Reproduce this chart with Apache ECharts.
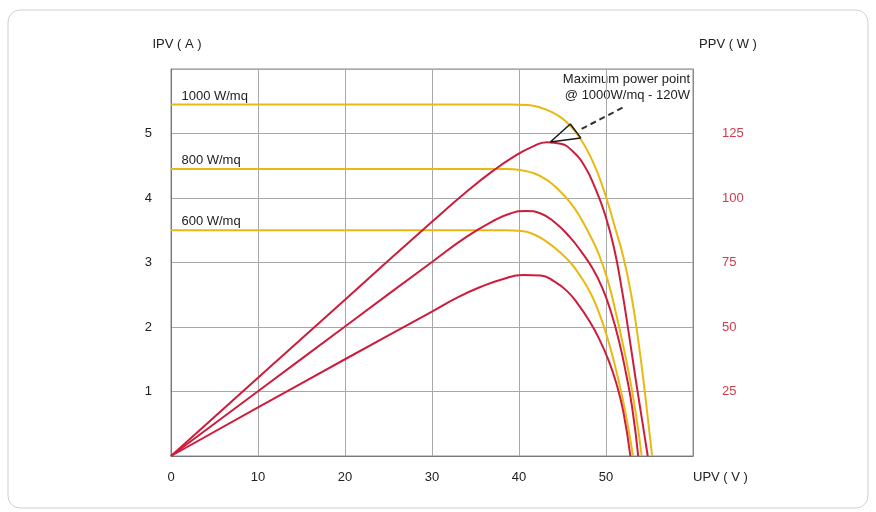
<!DOCTYPE html>
<html>
<head>
<meta charset="utf-8">
<title>PV module curves</title>
<script src="https://cdn.jsdelivr.net/npm/echarts@6/dist/echarts.min.js"></script>
<style>
  html, body { margin: 0; padding: 0; background: #fff; }
  #chart { width: 876px; height: 512px; }
</style>
</head>
<body>
<div id="chart"></div>
<script>
// tick labels
const voltTicks = [0, 10, 20, 30, 40, 50];
const currentTicks = [1, 2, 3, 4, 5];
const powerTicks = [25, 50, 75, 100, 125];

// irradiance names
const irradiance = ["1000 W/mq", "800 W/mq", "600 W/mq"];

// I-V curves  [V, A]
const iv1000 = [[0, 5.45], [10, 5.45], [20, 5.45], [30, 5.45], [39, 5.45], [41, 5.44], [42.5, 5.4], [43.8, 5.33], [45, 5.23],
  [46, 5.1], [47, 4.93], [48, 4.7], [49, 4.4], [50, 4.02], [51, 3.56], [52, 3.08], [52.9, 2.5], [53.7, 1.8], [54.5, 0.95], [55.3, 0]];
const iv800 = [[0, 4.45], [10, 4.45], [20, 4.45], [30, 4.45], [38.5, 4.45], [40.3, 4.43], [41.8, 4.38], [43.2, 4.28], [44.6, 4.12],
  [45.9, 3.93], [47, 3.71], [48.2, 3.41], [49.2, 3.12], [50.2, 2.72], [51, 2.3], [51.8, 1.82], [52.6, 1.3], [53.4, 0.68], [54.1, 0]];
const iv600 = [[0, 3.5], [10, 3.5], [20, 3.5], [30, 3.5], [38.5, 3.5], [40.3, 3.49], [41.8, 3.43], [43.2, 3.32], [44.6, 3.17],
  [45.9, 3.0], [47, 2.8], [48.2, 2.53], [49.2, 2.22], [50.1, 1.86], [51, 1.42], [51.8, 0.96], [52.5, 0.48], [53.1, 0]];

// P-V curves  [V, W]
const pv1000 = [[0, 0], [10, 30.3], [20, 60.6], [30, 90.8], [34, 102.5], [37, 110.5], [39.5, 116.2], [41.5, 119.8], [43.2, 121.6],
  [44.8, 121], [46.2, 118], [47.6, 112], [48.8, 103.5], [49.9, 93.5], [50.9, 81], [51.8, 65], [52.6, 48], [53.4, 30], [54.1, 15], [54.8, 0]];
const pv800 = [[0, 0], [10, 25.1], [20, 50.2], [30, 75.2], [34, 85], [37, 91], [39, 94], [40.8, 95], [42.5, 94], [44.2, 90.3],
  [45.8, 85], [47.2, 79], [48.5, 72.5], [49.6, 65], [50.6, 55.5], [51.5, 44.5], [52.3, 32], [53, 19], [53.7, 0]];
const pv600 = [[0, 0], [10, 18.8], [20, 37.5], [30, 56], [33, 61.6], [35.5, 65.4], [38, 68.4], [40.5, 70.2], [42.5, 70],
  [44, 67.8], [45.5, 64], [46.8, 58.8], [48, 52.8], [49.2, 45.5], [50.3, 37], [51.2, 28], [52, 17], [52.8, 0]];

// maximum power point pointer [V, W]
const mppArrow = [[43.6, 121.7], [45.9, 128.7], [47.1, 123.3], [43.6, 121.7]];
const mppLeader = [[47.2, 126.8], [52.3, 135.7]];

const FONT = "Liberation Sans, Arial, sans-serif";
const YELLOW = "#e8b912";
const RED = "#cc1d3d";
const GRID = "#a8a8a8";

function ivSeries(data, label) {
  return {
    type: "line",
    yAxisIndex: 0,
    data: data,
    smooth: 0.5,
    symbol: "none",
    lineStyle: { color: YELLOW, width: 2 },
    markPoint: {
      symbol: "circle",
      symbolSize: 0,
      silent: true,
      data: [{ coord: [1.2, data[0][1]] }],
      label: {
        show: true,
        formatter: label,
        position: [0, -2],
        align: "left",
        verticalAlign: "bottom",
        color: "#222",
        fontSize: 13,
        fontFamily: FONT,
      },
    },
  };
}

function pvSeries(data) {
  return {
    type: "line",
    yAxisIndex: 1,
    data: data,
    smooth: 0.5,
    symbol: "none",
    lineStyle: { color: RED, width: 2 },
  };
}

const option = {
  animation: false,
  textStyle: { fontFamily: FONT },
  grid: {
    left: 171,
    right: 183,
    top: 69,
    bottom: 56,
    show: true,
    borderColor: "#8a8a8a",
    borderWidth: 1,
  },
  graphic: [
    {
      type: "rect",
      silent: true,
      z: -10,
      shape: { x: 8, y: 10, width: 860, height: 498, r: 12 },
      style: { fill: "none", stroke: "#cfcfcf", lineWidth: 1 },
    },
    {
      type: "text",
      silent: true,
      x: 690,
      y: 71,
      style: {
        text: "Maximum power point\n@ 1000W/mq - 120W",
        fill: "#222",
        font: "13px " + FONT,
        lineHeight: 16,
        textAlign: "right",
        align: "right",
        verticalAlign: "top",
      },
    },
  ],
  xAxis: {
    type: "value",
    min: 0,
    max: 60,
    interval: 10,
    name: "UPV ( V )",
    nameLocation: "end",
    nameGap: 0,
    nameTextStyle: { color: "#222", fontSize: 13, verticalAlign: "top", padding: [15, 0, 0, 0] },
    axisLine: { lineStyle: { color: "#777", width: 1 } },
    axisTick: { show: false },
    axisLabel: {
      color: "#222",
      fontSize: 13,
      margin: 15,
      formatter: (v) => (voltTicks.includes(v) ? String(v) : ""),
    },
    splitLine: { show: true, lineStyle: { color: GRID, width: 1 } },
  },
  yAxis: [
    {
      type: "value",
      min: 0,
      max: 6,
      interval: 1,
      name: "IPV ( A )",
      nameLocation: "end",
      nameGap: 18,
      nameTextStyle: { color: "#222", fontSize: 13, padding: [0, 0, 0, 12] },
      axisLine: { show: true, lineStyle: { color: "#777", width: 1 } },
      axisTick: { show: false },
      axisLabel: {
        color: "#222",
        fontSize: 13,
        margin: 19,
        formatter: (v) => (currentTicks.includes(v) ? String(v) : ""),
      },
      splitLine: { show: true, lineStyle: { color: GRID, width: 1 } },
    },
    {
      type: "value",
      min: 0,
      max: 150,
      interval: 25,
      position: "right",
      name: "PPV ( W )",
      nameLocation: "end",
      nameGap: 18,
      nameTextStyle: { color: "#222", fontSize: 13, padding: [0, 0, 0, 70] },
      axisLine: { show: true, lineStyle: { color: "#8a8a8a", width: 1 } },
      axisTick: { show: false },
      axisLabel: {
        color: "#d23a4e",
        fontSize: 13,
        margin: 29,
        formatter: (v) => (powerTicks.includes(v) ? String(v) : ""),
      },
      splitLine: { show: false },
    },
  ],
  series: [
    ivSeries(iv1000, irradiance[0]),
    ivSeries(iv800, irradiance[1]),
    ivSeries(iv600, irradiance[2]),
    pvSeries(pv1000),
    pvSeries(pv800),
    pvSeries(pv600),
    {
      type: "line",
      yAxisIndex: 1,
      data: mppArrow,
      symbol: "none",
      silent: true,
      lineStyle: { color: "#1a1a1a", width: 1.5 },
      z: 5,
    },
    {
      type: "line",
      yAxisIndex: 1,
      data: mppLeader,
      symbol: "none",
      silent: true,
      lineStyle: { color: "#333", width: 2, type: [6, 4] },
      z: 5,
    },
  ],
};

const myChart = echarts.init(document.getElementById("chart"));
option && myChart.setOption(option);
</script>
</body>
</html>
